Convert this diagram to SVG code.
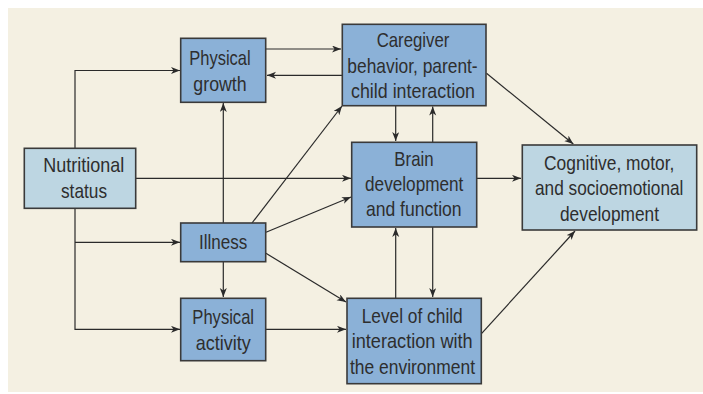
<svg xmlns="http://www.w3.org/2000/svg" width="703" height="394" viewBox="0 0 703 394">
<style>
.dk{fill:#8bb1d7;stroke:#3a3a3a;stroke-width:1.6}
.lt{fill:#bdd6e2;stroke:#3a3a3a;stroke-width:1.6}
text{font-family:"Liberation Sans",Arial,sans-serif;font-size:21px;fill:#2e2e2e;text-anchor:middle}
.c line,.c polyline{stroke:#2a2a2a;stroke-width:1.2;fill:none;marker-end:url(#ah)}
</style>
<defs>
<marker id="ah" markerUnits="userSpaceOnUse" markerWidth="10" markerHeight="8" refX="9" refY="3.5" orient="auto">
<path d="M0,0 L9,3.5 L0,7 L2.5,3.5 z" fill="#2a2a2a"/>
</marker>
</defs>
<rect x="0" y="0" width="703" height="394" fill="#ffffff"/>
<rect x="8" y="8" width="695" height="384" fill="#f4f0e2"/>
<g class="c" id="connectors">
<polyline points="75,148 75,70.5 180,70.5"/>
<line x1="136" y1="178.3" x2="351" y2="178.3"/>
<polyline points="75,208 75,329.3 180,329.3"/>
<line x1="75" y1="242.3" x2="180" y2="242.3"/>
<line x1="266" y1="49" x2="341" y2="49"/>
<line x1="342" y1="75.3" x2="267" y2="75.3"/>
<line x1="223.3" y1="223" x2="223.3" y2="103"/>
<line x1="223.3" y1="262" x2="223.3" y2="297"/>
<line x1="252" y1="223" x2="342" y2="106"/>
<line x1="266" y1="232.3" x2="351" y2="197"/>
<line x1="266" y1="253.3" x2="346" y2="302"/>
<line x1="266" y1="329.3" x2="346" y2="329.3"/>
<line x1="395.7" y1="105.7" x2="395.7" y2="141"/>
<line x1="432.7" y1="142" x2="432.7" y2="106.5"/>
<line x1="477" y1="178.3" x2="521" y2="178.3"/>
<line x1="486.5" y1="73.3" x2="573.3" y2="144"/>
<line x1="395.7" y1="298" x2="395.7" y2="228"/>
<line x1="432.7" y1="227" x2="432.7" y2="297"/>
<line x1="481.7" y1="333.3" x2="575" y2="231"/>
</g>
<g id="nutritional">
<rect class="lt" x="24.3" y="148.3" width="111.4" height="60"/>
<text x="83.8" y="172.3" textLength="81" lengthAdjust="spacingAndGlyphs">Nutritional</text>
<text x="84" y="198.3" textLength="46" lengthAdjust="spacingAndGlyphs">status</text>
</g>
<g id="physical-growth">
<rect class="dk" x="180.7" y="38.3" width="85" height="64"/>
<text x="220" y="65" textLength="61.3" lengthAdjust="spacingAndGlyphs">Physical</text>
<text x="220" y="90.7" textLength="53.3" lengthAdjust="spacingAndGlyphs">growth</text>
</g>
<g id="illness">
<rect class="dk" x="180.7" y="223" width="85" height="38.7"/>
<text x="223.2" y="249" textLength="48.3" lengthAdjust="spacingAndGlyphs">Illness</text>
</g>
<g id="physical-activity">
<rect class="dk" x="180.7" y="298.3" width="85" height="62.4"/>
<text x="223.2" y="324" textLength="61.7" lengthAdjust="spacingAndGlyphs">Physical</text>
<text x="223.2" y="350" textLength="55" lengthAdjust="spacingAndGlyphs">activity</text>
</g>
<g id="caregiver">
<rect class="dk" x="342.3" y="24.3" width="143.7" height="81.4"/>
<text x="413" y="47.3" textLength="72.7" lengthAdjust="spacingAndGlyphs">Caregiver</text>
<text x="412.5" y="72.7" textLength="130.3" lengthAdjust="spacingAndGlyphs">behavior, parent-</text>
<text x="413" y="97.7" textLength="124" lengthAdjust="spacingAndGlyphs">child interaction</text>
</g>
<g id="brain">
<rect class="dk" x="351.7" y="142.3" width="125" height="84.7"/>
<text x="414" y="165.7" textLength="39.3" lengthAdjust="spacingAndGlyphs">Brain</text>
<text x="414.2" y="190.7" textLength="98.3" lengthAdjust="spacingAndGlyphs">development</text>
<text x="413.8" y="216" textLength="95.7" lengthAdjust="spacingAndGlyphs">and function</text>
</g>
<g id="level">
<rect class="dk" x="347" y="298.3" width="134.3" height="85.4"/>
<text x="412.2" y="323.3" textLength="101" lengthAdjust="spacingAndGlyphs">Level of child</text>
<text x="412.2" y="348.3" textLength="121" lengthAdjust="spacingAndGlyphs">interaction with</text>
<text x="412.5" y="374.3" textLength="125" lengthAdjust="spacingAndGlyphs">the environment</text>
</g>
<g id="cognitive">
<rect class="lt" x="522.3" y="145" width="174.4" height="85"/>
<text x="609.2" y="170" textLength="130.3" lengthAdjust="spacingAndGlyphs">Cognitive, motor,</text>
<text transform="translate(609.2,195) scale(0.82,1)" x="0" y="0" textLength="180.9" lengthAdjust="spacingAndGlyphs">and socioemotional</text>
<text x="609.5" y="221" textLength="99" lengthAdjust="spacingAndGlyphs">development</text>
</g>
</svg>
